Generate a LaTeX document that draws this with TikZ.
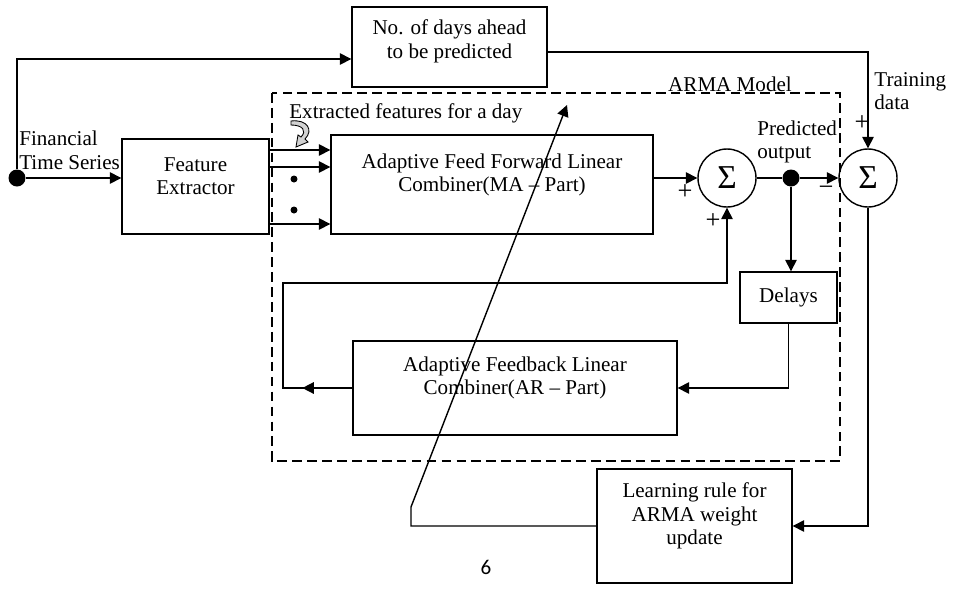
\documentclass[tikz,border=0pt]{standalone}
\usepackage{fontspec}
\setmainfont{Liberation Serif}
\newfontfamily\pagefont{Carlito}
\usepackage{tikz}
\usetikzlibrary{arrows.meta, calc}

\begin{document}
\begin{tikzpicture}[x=0.02cm, y=-0.02cm,
  font=\fontsize{12}{13.4}\selectfont,
  blk/.style={draw, line width=0.8pt, inner sep=0pt},
  txt/.style={align=center, inner sep=0pt},
  sign/.style={inner sep=0pt, font=\fontsize{15}{16}\selectfont},
  sumnode/.style={draw, circle, line width=0.8pt, minimum size=1.16cm, inner sep=0pt, font=\fontsize{19}{20}\selectfont},
  jdot/.style={circle, fill=black, minimum size=0.34cm, inner sep=0pt},
  arr/.style={line width=0.8pt, -{Triangle[length=6.5pt,width=6.5pt]}},
  wire/.style={line width=0.8pt}]
  \useasboundingbox (0,0) rectangle (954,596);

  % ARMA model frame
  \draw[line width=0.9pt, dash pattern=on 5.5pt off 3pt] (272,93) rectangle (840,461);
  \node[anchor=base east] (armalbl) at (798,91) {ARMA Model};

  % blocks
  \node[blk, minimum width=3.9cm, minimum height=1.6cm] (topbox) at (449.5,47) {};
  \node[txt] (toplbl) at (449.5,41.5) {No. of days ahead\\to be predicted};
  \node[blk, minimum width=2.94cm, minimum height=1.9cm] (feat) at (195.5,186.5) {};
  \node[txt] (featlbl) at (195.5,176) {Feature\\Extractor};
  \node[blk, minimum width=6.44cm, minimum height=1.98cm] (ma) at (492,184.5) {};
  \node[txt] (malbl) at (492,175) {Adaptive Feed Forward Linear\\Combiner(MA -- Part)};
  \node[blk, minimum width=6.48cm, minimum height=1.88cm] (ar) at (515,388) {};
  \node[txt] (arlbl) at (515,378) {Adaptive Feedback Linear\\Combiner(AR -- Part)};
  \node[blk, minimum width=1.94cm, minimum height=1.02cm] (delays) at (788.5,297.5) {Delays};
  \node[blk, minimum width=3.9cm, minimum height=2.28cm] (learn) at (694.5,526) {};
  \node[txt] (learnlbl) at (694.5,516) {Learning rule for\\ARMA weight\\update};
  \node[sumnode] (sum1) at (727,178) {Σ};
  \node[sumnode] (sum2) at (868,178) {Σ};
  \node[jdot] (dot1) at (17,178) {};
  \node[jdot] (dot2) at (791,178) {};

  % labels
  \node[anchor=west, align=left, inner sep=0pt] (finlbl) at (19,150.5) {Financial\\Time Series};
  \node[anchor=west, inner sep=0pt] (extrlbl) at (289,113) {Extracted features for a day};
  \node[anchor=west, align=left, inner sep=0pt] (predlbl) at (757,142) {Predicted\\output};
  \node[anchor=west, align=left, inner sep=0pt] (trainlbl) at (874,91) {Training\\data};
  \node[sign] (p1) at (685,192) {+};
  \node[sign] (p2) at (713,221) {+};
  \node[sign] (m1) at (826,191) {−};
  \node[sign] (p3) at (862,123) {+};
  \node[font=\fontsize{12}{14}\selectfont\pagefont] (pnum) at (486,567) {6};

  % feature lines into the MA part
  \coordinate (in1) at (0,150);
  \coordinate (in2) at (0,167);
  \coordinate (in3) at (0,224);
  \foreach \k in {in1,in2,in3}
    \draw[arr] (feat.east |- \k) -- (ma.west |- \k);
  \fill (294,179) circle (3.5);
  \fill (294,210) circle (3.5);
  \draw[fill=gray!35, line width=0.5pt] (291,121) .. controls (307,119) and (314,130) .. (305,139)
    -- (308,142) -- (296,147) -- (298,135) -- (301,137) .. controls (307,131) and (303,125) .. (291,125) -- cycle;

  % signal path
  \draw[arr] (dot1) -- (dot1 -| feat.west);
  \draw[arr] (dot1) |- ($(topbox.west)+(0,12)$);
  \draw[arr] ($(topbox.east)+(0,5)$) -| (sum2.north);
  \draw[arr] (ma.east |- sum1) -- (sum1.west);
  \draw[wire] (sum1) -- (dot2);
  \draw[arr] (dot2) -- (sum2.west);
  \draw[arr] (dot2) -- (dot2 |- delays.north);
  \draw[arr] (delays.south) |- (ar.east);

  % feedback of the AR part
  \coordinate (fbl) at (283,283);
  \draw[arr] (ar.west) -- ($(ar.west)+(-50,0)$);
  \draw[arr] (ar.west) -| (fbl) -| (sum1.south);

  % weight update
  \coordinate (bend) at (411,507);
  \coordinate (wtip) at (567,105);
  \draw[arr] (sum2.south) |- (learn.east);
  \draw[arr] (learn.west) -| (bend) -- (wtip);
\end{tikzpicture}
\end{document}
